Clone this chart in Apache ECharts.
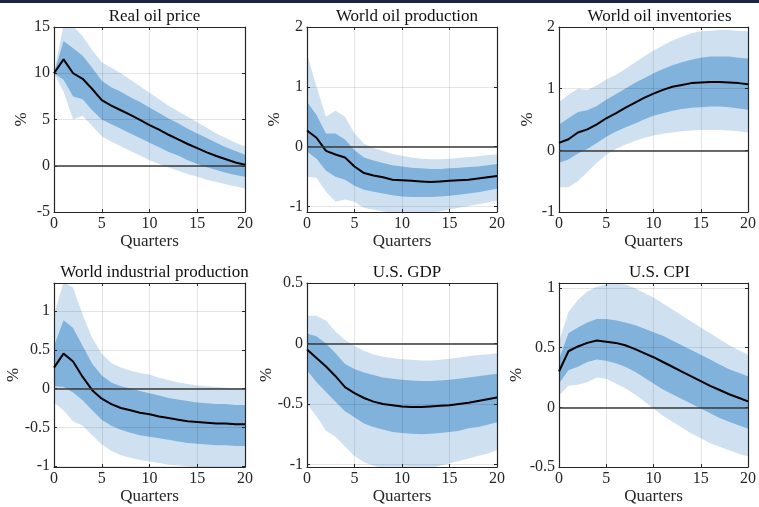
<!DOCTYPE html>
<html>
<head>
<meta charset="utf-8">
<script src="https://cdn.jsdelivr.net/npm/echarts@6/dist/echarts.min.js"></script>
<style>
html,body{margin:0;padding:0;background:#fff;}
#c{width:759px;height:507px;}
</style>
</head>
<body>
<div id="c"></div>
<script>
// ---- data ----
const quarters = ['0','1','2','3','4','5','6','7','8','9','10','11','12','13','14','15','16','17','18','19','20'];
const panelTitles = ['Real oil price','World oil production','World oil inventories','World industrial production','U.S. GDP','U.S. CPI'];

// Real oil price
const oilPriceMed   = [10,11.5,10,9.4,8.3,7.1,6.5,6.0,5.5,4.95,4.4,3.9,3.35,2.85,2.35,1.9,1.45,1.05,0.7,0.35,0.1];
const oilPriceInLo  = [10,9.3,7.5,7.2,6.0,5.0,4.5,4.0,3.5,3.0,2.5,2.0,1.5,1.1,0.6,0.2,-0.15,-0.45,-0.75,-1.0,-1.2];
const oilPriceInHi  = [10,13.5,12.7,11.9,10.6,9.2,8.5,8.0,7.4,6.9,6.3,5.7,5.1,4.6,4.0,3.5,3.0,2.5,2.0,1.6,1.2];
const oilPriceOutLo = [10,8.0,5.0,5.4,4.3,3.2,2.6,2.1,1.6,1.1,0.6,0.2,-0.2,-0.55,-0.9,-1.2,-1.5,-1.75,-2.0,-2.25,-2.45];
const oilPriceOutHi = [10,15.3,15.1,14.0,12.5,11.2,10.6,10.0,9.3,8.6,7.9,7.2,6.5,5.9,5.3,4.7,4.1,3.5,3.0,2.5,2.1];

// World oil production
const oilProdMed   = [0.27,0.15,-0.07,-0.13,-0.18,-0.33,-0.44,-0.48,-0.51,-0.55,-0.56,-0.57,-0.58,-0.59,-0.58,-0.57,-0.56,-0.55,-0.53,-0.51,-0.49];
const oilProdInLo  = [-0.08,-0.2,-0.4,-0.5,-0.55,-0.65,-0.72,-0.75,-0.78,-0.81,-0.83,-0.84,-0.84,-0.84,-0.83,-0.82,-0.80,-0.78,-0.76,-0.73,-0.70];
const oilProdInHi  = [0.75,0.53,0.22,0.22,0.12,-0.06,-0.18,-0.23,-0.27,-0.31,-0.33,-0.35,-0.36,-0.37,-0.37,-0.36,-0.35,-0.34,-0.33,-0.31,-0.29];
const oilProdOutLo = [-0.5,-0.52,-0.75,-0.92,-0.88,-0.92,-1.02,-1.05,-1.08,-1.1,-1.12,-1.12,-1.12,-1.1,-1.08,-1.05,-1.02,-0.99,-0.96,-0.93,-0.9];
const oilProdOutHi = [1.55,1.0,0.5,0.6,0.5,0.22,0.05,-0.02,-0.07,-0.12,-0.15,-0.18,-0.2,-0.21,-0.21,-0.2,-0.19,-0.17,-0.16,-0.14,-0.13];

// World oil inventories
const invMed   = [0.12,0.18,0.29,0.34,0.42,0.52,0.6,0.69,0.77,0.85,0.92,0.98,1.03,1.06,1.09,1.1,1.11,1.11,1.1,1.09,1.07];
const invInLo  = [-0.2,-0.15,-0.05,0.02,0.12,0.22,0.3,0.37,0.43,0.5,0.56,0.6,0.64,0.67,0.69,0.7,0.71,0.71,0.7,0.68,0.66];
const invInHi  = [0.42,0.52,0.62,0.65,0.72,0.82,0.91,1.0,1.09,1.17,1.25,1.32,1.38,1.43,1.47,1.5,1.52,1.52,1.52,1.5,1.49];
const invOutLo = [-0.6,-0.6,-0.5,-0.35,-0.2,-0.07,0.02,0.09,0.15,0.2,0.24,0.27,0.29,0.31,0.32,0.33,0.33,0.33,0.32,0.31,0.29];
const invOutHi = [0.78,0.9,1.0,0.98,1.05,1.15,1.22,1.32,1.42,1.52,1.62,1.7,1.78,1.84,1.9,1.93,1.94,1.95,1.95,1.94,1.93];

// World industrial production
const ipMed   = [0.27,0.45,0.35,0.15,-0.02,-0.13,-0.2,-0.25,-0.28,-0.31,-0.33,-0.36,-0.38,-0.4,-0.42,-0.43,-0.44,-0.45,-0.45,-0.46,-0.46];
const ipInLo  = [0.03,0.02,-0.05,-0.15,-0.28,-0.4,-0.48,-0.53,-0.57,-0.6,-0.62,-0.64,-0.66,-0.68,-0.7,-0.71,-0.72,-0.73,-0.73,-0.74,-0.74];
const ipInHi  = [0.55,0.88,0.78,0.55,0.32,0.17,0.08,0.03,0.0,-0.03,-0.06,-0.09,-0.12,-0.14,-0.16,-0.18,-0.19,-0.2,-0.2,-0.21,-0.21];
const ipOutLo = [-0.18,-0.28,-0.42,-0.48,-0.6,-0.72,-0.8,-0.86,-0.89,-0.92,-0.94,-0.96,-0.98,-0.99,-1.0,-1.01,-1.02,-1.02,-1.03,-1.03,-1.03];
const ipOutHi = [0.95,1.37,1.3,0.95,0.65,0.45,0.33,0.27,0.23,0.2,0.18,0.14,0.11,0.08,0.06,0.04,0.03,0.02,0.01,0.0,0.0];

// U.S. GDP
const gdpMed   = [-0.05,-0.12,-0.19,-0.27,-0.36,-0.41,-0.45,-0.48,-0.5,-0.51,-0.52,-0.525,-0.525,-0.52,-0.515,-0.51,-0.5,-0.49,-0.475,-0.46,-0.445];
const gdpInLo  = [-0.22,-0.32,-0.4,-0.48,-0.56,-0.61,-0.66,-0.69,-0.71,-0.73,-0.74,-0.745,-0.75,-0.745,-0.74,-0.73,-0.72,-0.7,-0.69,-0.67,-0.65];
const gdpInHi  = [0.08,0.06,0.0,-0.08,-0.17,-0.21,-0.24,-0.26,-0.28,-0.29,-0.3,-0.305,-0.31,-0.31,-0.305,-0.3,-0.29,-0.28,-0.27,-0.26,-0.25];
const gdpOutLo = [-0.5,-0.6,-0.72,-0.77,-0.85,-0.93,-0.98,-1.01,-1.03,-1.04,-1.05,-1.05,-1.04,-1.03,-1.01,-0.99,-0.97,-0.95,-0.93,-0.91,-0.88];
const gdpOutHi = [0.23,0.23,0.19,0.1,0.03,-0.02,-0.06,-0.09,-0.11,-0.12,-0.13,-0.135,-0.14,-0.14,-0.135,-0.125,-0.115,-0.105,-0.095,-0.09,-0.08];

// U.S. CPI
const cpiMed   = [0.3,0.47,0.51,0.54,0.56,0.55,0.54,0.52,0.49,0.455,0.42,0.38,0.34,0.3,0.26,0.22,0.18,0.145,0.11,0.08,0.05];
const cpiInLo  = [0.2,0.31,0.34,0.38,0.4,0.39,0.37,0.34,0.3,0.25,0.2,0.15,0.11,0.07,0.03,-0.01,-0.05,-0.09,-0.12,-0.15,-0.18];
const cpiInHi  = [0.4,0.62,0.67,0.71,0.74,0.74,0.73,0.71,0.69,0.66,0.63,0.6,0.56,0.52,0.48,0.44,0.4,0.36,0.32,0.29,0.26];
const cpiOutLo = [0.1,0.18,0.19,0.21,0.25,0.24,0.2,0.16,0.11,0.05,-0.01,-0.07,-0.12,-0.17,-0.22,-0.26,-0.3,-0.33,-0.36,-0.39,-0.41];
const cpiOutHi = [0.55,0.8,0.9,0.97,1.01,1.03,1.04,1.03,1.0,0.96,0.92,0.87,0.82,0.77,0.72,0.67,0.62,0.57,0.52,0.48,0.44];

// tick values
const yTicksList = [
  [-5,0,5,10,15],
  [-1,0,1,2],
  [-1,0,1,2],
  [-1,-0.5,0,0.5,1],
  [-1,-0.5,0,0.5],
  [-0.5,0,0.5,1]
];
const yRanges = [[-5,15],[-1.09,2],[-1,2],[-1.01,1.36],[-1.02,0.5],[-0.5,1.042]];

const panels = [
  [oilPriceMed,oilPriceInLo,oilPriceInHi,oilPriceOutLo,oilPriceOutHi],
  [oilProdMed,oilProdInLo,oilProdInHi,oilProdOutLo,oilProdOutHi],
  [invMed,invInLo,invInHi,invOutLo,invOutHi],
  [ipMed,ipInLo,ipInHi,ipOutLo,ipOutHi],
  [gdpMed,gdpInLo,gdpInHi,gdpOutLo,gdpOutHi],
  [cpiMed,cpiInLo,cpiInHi,cpiOutLo,cpiOutHi]
];

// ---- layout / style ----
const FONT = 'Liberation Serif';
const TXT = '#262626';
const AXC = '#262626';
const LIGHT = '#cfe1f1';
const DARK = '#80b2dc';
const gridBoxes = [
  {left:54, top:27, width:191, height:185},
  {left:307, top:27, width:190, height:185},
  {left:559, top:27, width:191, height:185},
  {left:54, top:283, width:191, height:184},
  {left:307, top:283, width:190, height:184},
  {left:559, top:283, width:191, height:184}
];
const yNameGaps = [24,24,23,32,32,34];

const option = {
  animation:false,
  backgroundColor:'#fff',
  textStyle:{fontFamily:FONT},
  title:[], grid:[], xAxis:[], yAxis:[], series:[],
  graphic:[{type:'rect', shape:{x:0,y:0,width:759,height:3}, style:{fill:'#1c2541'}}]
};

gridBoxes.forEach((g,i)=>{
  option.grid.push(Object.assign({containLabel:false}, g));
  option.title.push({
    text: panelTitles[i], left: g.left + g.width/2, top: g.top - 24, textAlign:'center',
    textStyle:{fontFamily:FONT, fontSize:17, fontWeight:'normal', color:'#111'}
  });
  const yr = yRanges[i];
  const yt = yTicksList[i];
  const xTick = {show:true, inside:true, length:3, interval:4, lineStyle:{color:AXC, width:1}};
  const yTick = {show:true, inside:true, length:3, customValues:yt, lineStyle:{color:AXC, width:1}};
  // bottom x axis
  option.xAxis.push({
    type:'category', data:quarters, boundaryGap:false, gridIndex:i, position:'bottom', z:3,
    name:'Quarters', nameLocation:'middle', nameGap:21, nameMoveOverlap:false,
    nameTextStyle:{fontFamily:FONT, fontSize:17, color:TXT},
    axisLine:{show:true, onZero:false, lineStyle:{color:AXC, width:1.2}},
    axisTick:xTick,
    axisLabel:{show:true, interval:4, fontFamily:FONT, fontSize:16, color:TXT, margin:4},
    splitLine:{show:true, interval:4, lineStyle:{color:'rgba(0,0,0,0.1)', width:1}}
  });
  // top x axis
  option.xAxis.push({
    type:'category', data:quarters, boundaryGap:false, gridIndex:i, position:'top', z:3,
    axisLine:{show:true, onZero:false, lineStyle:{color:AXC, width:1.2}},
    axisTick:xTick, axisLabel:{show:false}, splitLine:{show:false}
  });
  // left y axis
  option.yAxis.push({
    type:'value', gridIndex:i, min:yr[0], max:yr[1], position:'left', z:3,
    name:'%', nameLocation:'middle', nameGap:yNameGaps[i], nameMoveOverlap:false,
    nameTextStyle:{fontFamily:FONT, fontSize:17, color:TXT},
    axisLine:{show:true, onZero:false, lineStyle:{color:AXC, width:1.2}},
    axisTick:yTick,
    axisLabel:{show:true, customValues:yt, fontFamily:FONT, fontSize:16, color:TXT, margin:4},
    splitLine:{show:true, lineStyle:{color:'rgba(0,0,0,0.1)', width:1}}
  });
  // right y axis
  option.yAxis.push({
    type:'value', gridIndex:i, min:yr[0], max:yr[1], position:'right', z:3,
    axisLine:{show:true, onZero:false, lineStyle:{color:AXC, width:1.2}},
    axisTick:yTick, axisLabel:{show:false}, splitLine:{show:false}
  });

  const [med,inLo,inHi,outLo,outHi] = panels[i];
  const xi = 2*i, yi = 2*i;
  const diff = (hi,lo) => hi.map((v,k)=>v - lo[k]);
  const base = {type:'line', xAxisIndex:xi, yAxisIndex:yi, symbol:'none', silent:true, stackStrategy:'all', clip:true};
  option.series.push(Object.assign({}, base, {stack:'out'+i, data:outLo, lineStyle:{width:0, opacity:0}, z:1}));
  option.series.push(Object.assign({}, base, {stack:'out'+i, data:diff(outHi,outLo), lineStyle:{width:0, opacity:0}, areaStyle:{color:LIGHT, opacity:1}, z:1}));
  option.series.push(Object.assign({}, base, {stack:'in'+i, data:inLo, lineStyle:{width:0, opacity:0}, z:2}));
  option.series.push(Object.assign({}, base, {stack:'in'+i, data:diff(inHi,inLo), lineStyle:{width:0, opacity:0}, areaStyle:{color:DARK, opacity:1}, z:2}));
  option.series.push({
    type:'line', xAxisIndex:xi, yAxisIndex:yi, symbol:'none', silent:true, clip:true, z:4,
    data:med, lineStyle:{color:'#000', width:2},
    markLine:{silent:true, symbol:['none','none'], label:{show:false},
      lineStyle:{color:'#3a3a3a', width:1.5, type:'solid'}, data:[{yAxis:0}]}
  });
});

const chart = echarts.init(document.getElementById('c'), null, {renderer:'canvas'});
chart.setOption(option);
</script>
</body>
</html>
